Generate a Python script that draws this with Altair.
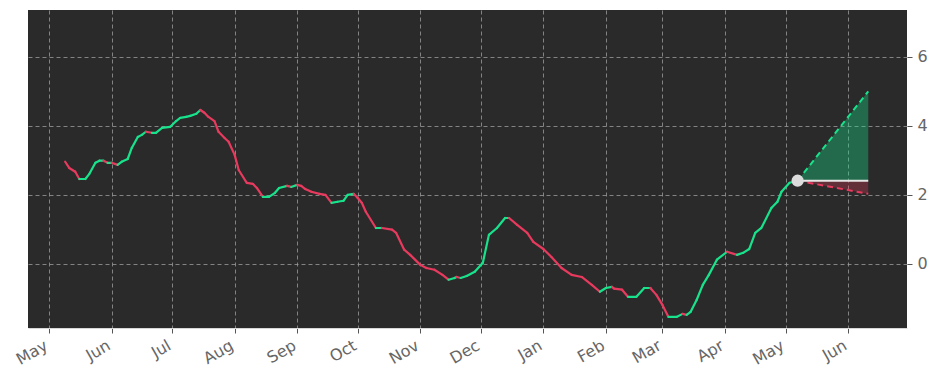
import altair as alt
import pandas as pd

dates = [
    "2022-05-09", "2022-05-11", "2022-05-14", "2022-05-16", "2022-05-19", "2022-05-21",
    "2022-05-24", "2022-05-26", "2022-05-28", "2022-05-30", "2022-06-01", "2022-06-04",
    "2022-06-06", "2022-06-09", "2022-06-11", "2022-06-14", "2022-06-16", "2022-06-18",
    "2022-06-21", "2022-06-23", "2022-06-26", "2022-06-30", "2022-07-03", "2022-07-05",
    "2022-07-08", "2022-07-10", "2022-07-13", "2022-07-15", "2022-07-17", "2022-07-19",
    "2022-07-22", "2022-07-24", "2022-07-27", "2022-07-29", "2022-08-01", "2022-08-03",
    "2022-08-07", "2022-08-10", "2022-08-12", "2022-08-15", "2022-08-18", "2022-08-21",
    "2022-08-23", "2022-08-27", "2022-08-29", "2022-09-01", "2022-09-03", "2022-09-05",
    "2022-09-08", "2022-09-12", "2022-09-15", "2022-09-18", "2022-09-21", "2022-09-24",
    "2022-09-26", "2022-09-29", "2022-10-01", "2022-10-03", "2022-10-05", "2022-10-10",
    "2022-10-13", "2022-10-18", "2022-10-20", "2022-10-24", "2022-10-27", "2022-11-01",
    "2022-11-04", "2022-11-08", "2022-11-12", "2022-11-15", "2022-11-18", "2022-11-19",
    "2022-11-21", "2022-11-24", "2022-11-28", "2022-12-02", "2022-12-05", "2022-12-09",
    "2022-12-13", "2022-12-15", "2022-12-19", "2022-12-24", "2022-12-27", "2023-01-01",
    "2023-01-05", "2023-01-10", "2023-01-15", "2023-01-20", "2023-01-25", "2023-01-29",
    "2023-02-01", "2023-02-04", "2023-02-05", "2023-02-09", "2023-02-12", "2023-02-16",
    "2023-02-20", "2023-02-23", "2023-02-26", "2023-03-01", "2023-03-04", "2023-03-08",
    "2023-03-11", "2023-03-13", "2023-03-15", "2023-03-18", "2023-03-21", "2023-03-24",
    "2023-03-28", "2023-04-02", "2023-04-07", "2023-04-10", "2023-04-13", "2023-04-16",
    "2023-04-19", "2023-04-24", "2023-04-27", "2023-04-29", "2023-05-03", "2023-05-07",
]
values = [
    2.96, 2.78, 2.67, 2.46, 2.46, 2.61,
    2.93, 2.99, 2.99, 2.93, 2.93, 2.87,
    2.96, 3.04, 3.36, 3.68, 3.74, 3.83,
    3.80, 3.80, 3.94, 3.97, 4.14, 4.23,
    4.26, 4.29, 4.35, 4.46, 4.38, 4.26,
    4.14, 3.83, 3.65, 3.54, 3.16, 2.72,
    2.35, 2.32, 2.20, 1.94, 1.94, 2.06,
    2.20, 2.26, 2.23, 2.29, 2.26, 2.17,
    2.09, 2.03, 2.00, 1.77, 1.80, 1.83,
    2.00, 2.03, 1.91, 1.77, 1.51, 1.04,
    1.04, 0.99, 0.90, 0.41, 0.26, -0.03,
    -0.12, -0.17, -0.32, -0.46, -0.41, -0.38,
    -0.41, -0.35, -0.23, 0.03, 0.84, 1.04,
    1.33, 1.33, 1.13, 0.90, 0.64, 0.43,
    0.20, -0.12, -0.32, -0.38, -0.61, -0.81,
    -0.70, -0.67, -0.72, -0.75, -0.96, -0.96,
    -0.70, -0.70, -0.90, -1.19, -1.54, -1.54,
    -1.45, -1.48, -1.39, -1.04, -0.61, -0.32,
    0.12, 0.35, 0.26, 0.32, 0.43, 0.90,
    1.04, 1.62, 1.80, 2.09, 2.35, 2.41,
]

forecast_dates = ["2023-05-07", "2023-06-11"]
forecast_mid = [2.41, 2.41]
forecast_upper = [2.41, 5.00]
forecast_lower = [2.41, 2.03]

y_ticks = [0, 2, 4, 6]
month_ticks = [(2022, m) for m in range(5, 13)] + [(2023, m) for m in range(1, 7)]

GREEN = "#18e38c"
RED = "#e83a5e"
BG = "#2a2a2a"
GRID = "#9a9a9a"
LABEL = "#666666"

seg = pd.DataFrame({
    "date": dates[:-1],
    "date2": dates[1:],
    "v": values[:-1],
    "v2": values[1:],
})
seg["dir"] = ["up" if b >= a else "down" for a, b in zip(values[:-1], values[1:])]

fc = pd.DataFrame({
    "date": forecast_dates,
    "mid": forecast_mid,
    "upper": forecast_upper,
    "lower": forecast_lower,
})
last = pd.DataFrame({"date": [dates[-1]], "v": [values[-1]]})

x_scale = alt.Scale(
    type="utc",
    domain=[alt.DateTime(year=2022, month=4, date=20, hours=14, utc=True),
            alt.DateTime(year=2023, month=6, date=30, hours=5, utc=True)],
)
y_scale = alt.Scale(domain=[-1.86, 7.36], nice=False, zero=False)

x_axis = alt.Axis(
    title=None,
    values=[alt.DateTime(year=y, month=m, date=1, utc=True) for y, m in month_ticks],
    labelExpr="utcFormat(datum.value, '%b')",
    labelAngle=-30, labelAlign="right", labelBaseline="top",
    labelFontSize=16, labelColor=LABEL, labelFont="DejaVu Sans",
    labelPadding=4, labelOffset=-7, tickSize=5, tickColor="#555555",
    domainColor="#d8d8d8", domainWidth=1,
    grid=True, gridColor=GRID, gridDash=[4, 3], gridWidth=1, gridOpacity=0.8,
    labelOverlap=False, labelBound=False, labelFlush=False,
)
y_axis = alt.Axis(
    title=None, orient="right", values=y_ticks,
    labelFontSize=16, labelColor=LABEL, labelFont="DejaVu Sans",
    labelPadding=5, tickSize=5, tickColor="#555555",
    domain=False,
    grid=True, gridColor=GRID, gridDash=[4, 3], gridWidth=1, gridOpacity=0.8,
)

X = alt.X("date:T", scale=x_scale, axis=x_axis)

lines = alt.Chart(seg).mark_rule(strokeWidth=2.2, strokeCap="round").encode(
    x=X,
    x2="date2:T",
    y=alt.Y("v:Q", scale=y_scale, axis=y_axis),
    y2="v2:Q",
    color=alt.Color("dir:N", scale=alt.Scale(domain=["up", "down"], range=[GREEN, RED]), legend=None),
)

base_fc = alt.Chart(fc)
area_up = base_fc.mark_area(color=GREEN, opacity=0.35).encode(
    x=alt.X("date:T", scale=x_scale), y=alt.Y("mid:Q", scale=y_scale), y2="upper:Q")
area_dn = base_fc.mark_area(color=RED, opacity=0.3).encode(
    x=alt.X("date:T", scale=x_scale), y=alt.Y("lower:Q", scale=y_scale), y2="mid:Q")
line_up = base_fc.mark_line(color=GREEN, strokeWidth=2, strokeDash=[6, 4]).encode(
    x=alt.X("date:T", scale=x_scale), y=alt.Y("upper:Q", scale=y_scale))
line_dn = base_fc.mark_line(color=RED, strokeWidth=2, strokeDash=[6, 4]).encode(
    x=alt.X("date:T", scale=x_scale), y=alt.Y("lower:Q", scale=y_scale))
line_mid = base_fc.mark_line(color="#e6e6e6", strokeWidth=2).encode(
    x=alt.X("date:T", scale=x_scale), y=alt.Y("mid:Q", scale=y_scale))
dot = alt.Chart(last).mark_circle(color="#dcdcdc", opacity=1, size=150).encode(
    x=alt.X("date:T", scale=x_scale), y=alt.Y("v:Q", scale=y_scale))

chart = alt.layer(lines, area_up, area_dn, line_up, line_dn, line_mid, dot).properties(
    width=879, height=318,
    autosize=alt.AutoSizeParams(type="none"),
    padding={"left": 20, "top": 2, "right": 21, "bottom": 45},
    background="white",
).configure_view(fill=BG, stroke=None)

chart.save("out.html", embed_options={"renderer": "svg", "actions": False})
